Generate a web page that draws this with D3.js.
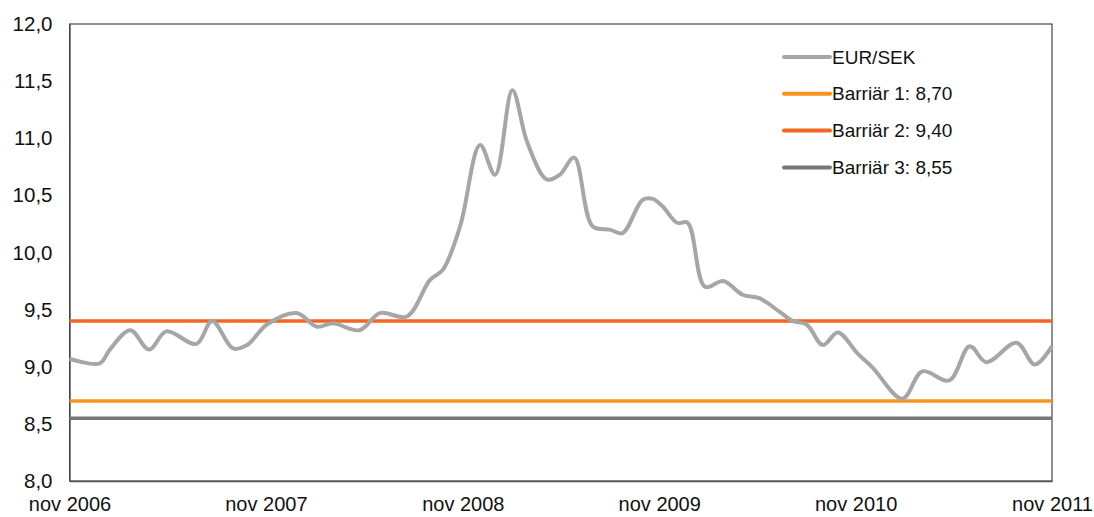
<!DOCTYPE html>
<html>
<head>
<meta charset="utf-8">
<script src="https://cdn.jsdelivr.net/npm/d3@7"></script>
<style>
  body { margin: 0; background: #fff; }
  text { font-family: "Liberation Sans", Arial, sans-serif; fill: #111; }
</style>
</head>
<body>
<svg width="1094" height="517"></svg>
<script>
// EUR/SEK rate
var dates = ["2006-11-01","2006-12-27","2007-01-15","2007-02-22","2007-03-29","2007-04-30",
  "2007-06-25","2007-07-24","2007-09-01","2007-09-27","2007-11-03","2007-12-28","2008-02-04",
  "2008-03-04","2008-04-23","2008-05-31","2008-07-20","2008-09-01","2008-09-25","2008-10-27",
  "2008-12-03","2008-12-31","2009-02-01","2009-03-01","2009-04-06","2009-04-30","2009-05-27",
  "2009-06-30","2009-08-01","2009-08-25","2009-10-01","2009-10-20","2009-11-08","2009-12-04",
  "2009-12-24","2010-01-25","2010-02-28","2010-04-05","2010-05-06","2010-06-13","2010-07-07",
  "2010-08-02","2010-09-01","2010-09-29","2010-11-04","2010-12-03","2011-01-27","2011-03-05",
  "2011-04-24","2011-06-01","2011-07-02","2011-08-27","2011-09-30","2011-11-01"];
var eursek = [9.07,9.03,9.15,9.32,9.15,9.31,
  9.20,9.40,9.16,9.19,9.37,9.47,9.35,
  9.38,9.32,9.47,9.44,9.76,9.85,10.23,
  10.94,10.68,11.42,10.96,10.64,10.68,10.83,
  10.23,10.20,10.17,10.46,10.47,10.40,10.26,
  10.26,9.70,9.75,9.63,9.60,9.48,9.40,
  9.37,9.19,9.30,9.12,8.99,8.72,8.96,
  8.88,9.18,9.04,9.21,9.02,9.18];

var barrierNames = ["Barriär 1: 8,70", "Barriär 2: 9,40", "Barriär 3: 8,55"];
var barrierValues = [8.70, 9.40, 8.55];
var barrierColors = ["#F7941D", "#F26522", "#777777"];

var yTicks = [8.0, 8.5, 9.0, 9.5, 10.0, 10.5, 11.0, 11.5, 12.0];
var xTickDates = ["2006-11-01","2007-11-01","2008-11-01","2009-11-01","2010-11-01","2011-11-01"];

var parse = d3.timeParse("%Y-%m-%d");
var fmtY = function(d) { return d3.format(".1f")(d).replace(".", ","); };
var fmtX = function(d) { return "nov " + d.getFullYear(); };

var svg = d3.select("svg"),
    margin = {top: 24, right: 42, bottom: 36, left: 69.5},
    width = 1094 - margin.left - margin.right,
    height = 517 - margin.top - margin.bottom;

var g = svg.append("g").attr("transform", "translate(" + margin.left + "," + margin.top + ")");

var x = d3.scaleTime()
    .domain([parse(xTickDates[0]), parse(xTickDates[xTickDates.length - 1])])
    .range([0, width]);
var y = d3.scaleLinear().domain([8, 12]).range([height, 0]);

// frame
g.append("rect")
    .attr("width", width).attr("height", height)
    .attr("fill", "none").attr("stroke", "#222").attr("stroke-width", 1);

// y axis
var yAxis = g.append("g")
    .call(d3.axisLeft(y).tickValues(yTicks).tickFormat(fmtY).tickSize(0).tickPadding(17));
yAxis.select(".domain").attr("stroke", "#555").attr("stroke-width", 1.5);
yAxis.selectAll("text").style("font-size", "20.5px").attr("fill", "#111");

// x axis
var xAxis = g.append("g")
    .attr("transform", "translate(0," + height + ")")
    .call(d3.axisBottom(x).tickValues(xTickDates.map(parse)).tickFormat(fmtX).tickSize(0).tickPadding(16));
xAxis.select(".domain").attr("stroke", "#555").attr("stroke-width", 1.5);
xAxis.selectAll("text").style("font-size", "20px").attr("fill", "#111");

// barriers
g.selectAll(".barrier")
    .data(barrierValues)
  .enter().append("line")
    .attr("class", "barrier")
    .attr("x1", 0).attr("x2", width)
    .attr("y1", function(d) { return y(d); })
    .attr("y2", function(d) { return y(d); })
    .attr("stroke", function(d, i) { return barrierColors[i]; })
    .attr("stroke-width", 3.5);

// EUR/SEK line
var series = dates.map(function(d, i) { return {date: parse(d), value: eursek[i]}; });
var line = d3.line()
    .x(function(d) { return x(d.date); })
    .y(function(d) { return y(d.value); })
    .curve(d3.curveCatmullRom.alpha(0.5));

g.append("path")
    .datum(series)
    .attr("fill", "none")
    .attr("stroke", "#A6A6A6")
    .attr("stroke-width", 4)
    .attr("stroke-linejoin", "round")
    .attr("d", line);

// legend
var legendItems = [{name: "EUR/SEK", color: "#A6A6A6"}].concat(
  barrierNames.map(function(n, i) { return {name: n, color: barrierColors[i]}; }));

var legend = svg.append("g").attr("transform", "translate(784,57)");
var item = legend.selectAll("g")
    .data(legendItems)
  .enter().append("g")
    .attr("transform", function(d, i) { return "translate(0," + (i * 36.8) + ")"; });
item.append("line")
    .attr("x1", 0).attr("x2", 46)
    .attr("stroke", function(d) { return d.color; })
    .attr("stroke-width", 4).attr("stroke-linecap", "round");
item.append("text")
    .attr("x", 48).attr("dy", "0.35em")
    .style("font-size", "19px")
    .text(function(d) { return d.name; });
</script>
</body>
</html>
